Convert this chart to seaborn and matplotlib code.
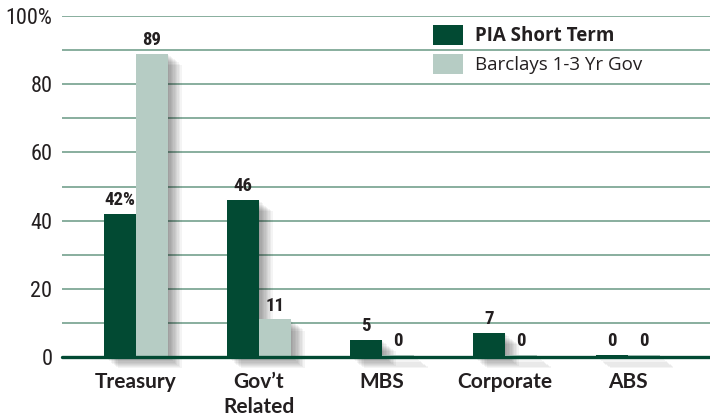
import matplotlib
matplotlib.use("Agg")
import matplotlib.pyplot as plt
import matplotlib.patheffects as pe
from matplotlib.patches import Patch
from matplotlib import font_manager as fm
import numpy as np
import pandas as pd
import seaborn as sns

categories = ["Treasury", "Gov\u2019t\nRelated", "MBS", "Corporate", "ABS"]
series_names = ["PIA Short Term", "Barclays 1-3 Yr Gov"]
pia_values = [42, 46, 5, 7, 0]
barclays_values = [89, 11, 0, 0, 0]
pia_labels = ["42%", "46", "5", "7", "0"]
barclays_labels = ["89", "11", "0", "0", "0"]
y_ticks = [0, 20, 40, 60, 80, 100]
y_tick_labels = ["0", "20", "40", "60", "80", "100%"]

dark = "#024a33"
light = "#b6ccc4"
grid_col = "#7fa896"
txt = "#231f20"

df = pd.DataFrame({
    "category": categories * 2,
    "series": [series_names[0]] * 5 + [series_names[1]] * 5,
    "value": pia_values + barclays_values,
})
# zero-valued bars are drawn as a thin stub as in the reference
df["shown"] = np.maximum(df["value"], 0.5)

sns.set_theme(style="white")

# pick a condensed face if one is installed
narrow_props = None
cands = [("Liberation Sans Narrow", "normal"), ("Roboto Condensed", "normal"),
         ("Noto Sans Condensed", "normal"), ("Noto Sans", "condensed"),
         ("Open Sans Condensed", "normal"), ("Open Sans", "condensed"),
         ("DejaVu Sans", "condensed")]
for fam, st in cands:
    try:
        f = fm.findfont(fm.FontProperties(family=fam, stretch=st, weight="bold"),
                        fallback_to_default=False)
        if "Narrow" in f or "Condensed" in f:
            narrow_props = (fam, st)
            break
    except Exception:
        pass
found_narrow = narrow_props is not None
if narrow_props is None:
    narrow_props = ("Roboto", "normal")
nfam, nst = narrow_props
plt.rcParams["font.family"] = [nfam, "DejaVu Sans"]

fig = plt.figure(figsize=(7.1, 4.18), dpi=100)
ax = fig.add_axes([62 / 710, 1 - 357 / 418, 648 / 710, 341 / 418])

for yv in range(10, 101, 10):
    ax.axhline(yv, color=grid_col, lw=1.3, zorder=0)

sns.barplot(data=df, x="category", y="shown", hue="series",
            palette=[dark, light], width=0.52, ax=ax, legend=False,
            saturation=1, zorder=3)

shadow = []
for k in range(10, 0, -1):
    shadow.append(pe.SimplePatchShadow(offset=(k, -k * 0.8), shadow_rgbFace="#000000", alpha=0.045))
shadow.append(pe.Normal())
for p in ax.patches:
    p.set_path_effects(shadow)
    p.set_clip_on(False)
    p.set_linewidth(0)

vsize = 13.5 if found_narrow else 11.5
for cont, labels in zip(ax.containers, [pia_labels, barclays_labels]):
    ax.bar_label(cont, labels=labels, padding=3.5, fontsize=vsize,
                 fontweight="bold", color=txt, family=[nfam, "DejaVu Sans"],
                 fontstretch=nst)

ax.axhline(0, color=dark, lw=2.4, zorder=5, clip_on=False)

ax.set_ylim(0, 100)
ax.set_xlim(-0.6, 4.67)
ax.set_yticks(y_ticks)
ax.set_yticklabels(y_tick_labels, fontsize=16 if found_narrow else 14.5,
                   color=txt, fontstretch=nst)
ax.tick_params(axis="y", length=0, pad=7)
ax.tick_params(axis="x", length=0, pad=11)
ax.set_xticks(range(len(categories)))
ax.set_xticklabels(categories, fontsize=15, fontweight="bold",
                   color=txt, family=["Lato", "DejaVu Sans"],
                   linespacing=1.28, va="top")
ax.set_xlabel("")
ax.set_ylabel("")
for s in ax.spines.values():
    s.set_visible(False)

handles = [Patch(facecolor=dark, edgecolor="none"),
           Patch(facecolor=light, edgecolor="none")]
leg = ax.legend(handles, series_names, loc="upper left",
                bbox_to_anchor=((433 - 62) / 648, (357 - 25) / 341),
                frameon=False, borderaxespad=0, borderpad=0,
                handlelength=1.6, handleheight=1.23, handletextpad=0.64,
                labelspacing=0.43,
                prop={"family": ["Open Sans", "DejaVu Sans"], "size": 13.5})
leg.get_texts()[0].set_fontweight("bold")
for t in leg.get_texts():
    t.set_color(txt)

fig.savefig("out.png", dpi=100, facecolor="white")
